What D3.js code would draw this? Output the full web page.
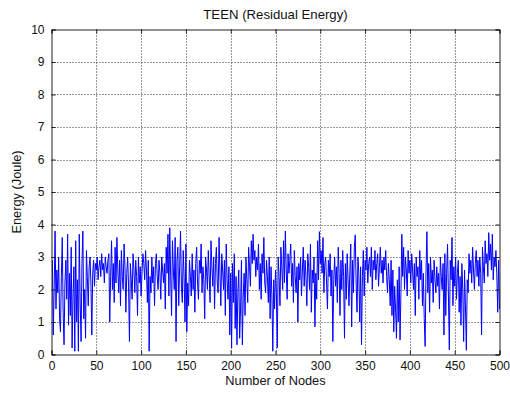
<!DOCTYPE html>
<html><head><meta charset="utf-8">
<script src="https://cdn.jsdelivr.net/npm/d3@7"></script>
<style>body{margin:0;background:#fff}svg{display:block}text{font-family:"Liberation Sans",Arial,sans-serif}</style>
</head><body>
<svg id="c" width="510" height="393"></svg>
<script>
const xTicks = [0,50,100,150,200,250,300,350,400,450,500];
const yTicks = [0,1,2,3,4,5,6,7,8,9,10];
const energy = [
2.9,0.6,2.1,3.8,1.4,2.6,1.9,3.0,1.1,0.7,2.4,3.6,1.3,0.3,2.2,2.9,1.7,3.7,0.9,2.5,1.2,3.3,0.2,1.8,2.7,
0.1,3.5,1.0,2.3,0.1,3.7,1.6,0.4,2.8,3.8,1.1,2.0,0.5,3.2,2.4,1.5,2.7,3.0,2.2,0.6,2.5,2.9,2.1,2.8,2.6,
3.0,2.3,2.7,2.9,2.4,3.1,2.6,2.8,2.2,3.0,2.7,2.5,2.9,3.1,1.0,2.4,3.5,2.0,2.8,1.6,3.3,2.2,3.6,2.6,1.9,
2.9,1.5,3.2,2.4,2.0,3.4,2.7,1.3,2.5,3.0,2.1,0.4,2.8,2.3,1.7,3.1,2.6,1.9,2.9,2.4,1.2,3.0,2.2,2.7,1.8,
2.5,3.1,2.8,2.3,3.2,2.6,1.6,2.9,0.1,2.4,1.9,3.0,2.2,2.7,1.5,2.8,3.1,2.4,2.0,2.9,2.5,1.7,3.0,2.6,2.2,
2.8,1.4,3.3,2.5,3.7,1.8,3.9,2.4,1.2,3.5,2.6,2.0,3.6,0.4,2.9,3.3,1.5,2.7,3.8,2.1,1.6,3.2,2.4,1.0,3.4,
0.7,2.2,1.5,2.9,2.4,1.8,3.1,2.0,2.6,1.3,2.8,3.3,2.2,1.7,2.9,2.5,3.4,1.9,2.7,2.3,1.1,3.0,2.6,2.0,3.2,
2.4,1.6,3.5,2.7,2.1,3.0,1.4,2.8,3.3,2.2,1.9,3.6,2.5,1.5,3.1,2.6,2.0,2.9,1.2,3.4,2.3,1.7,2.7,0.6,2.5,
0.2,2.8,1.6,3.1,0.8,2.4,0.3,1.9,2.6,0.5,1.4,2.9,0.3,1.8,2.5,1.2,3.0,2.3,1.6,3.3,2.7,2.1,3.5,2.8,3.7,
2.9,3.2,2.4,3.0,2.6,3.4,2.0,2.8,1.7,3.1,2.5,3.6,2.2,1.9,2.9,2.4,1.6,3.0,1.1,2.7,1.8,0.1,2.3,1.4,2.6,
1.9,0.2,3.0,2.4,1.5,3.3,2.7,2.0,3.5,2.2,3.8,2.6,1.7,3.1,2.5,2.9,3.4,2.1,2.8,1.6,3.2,2.4,1.9,2.7,1.0,
2.8,2.3,3.0,1.8,2.6,3.3,2.1,2.9,2.4,1.5,3.1,2.7,2.0,3.4,1.3,2.6,2.2,3.0,0.85,2.5,1.7,3.5,2.3,3.78,2.8,
3.2,2.5,3.6,1.9,2.8,3.0,2.2,1.4,2.9,2.4,3.1,1.8,2.6,0.4,2.3,3.0,2.1,2.7,1.6,3.3,2.5,1.2,2.9,2.0,3.2,
2.4,0.5,2.8,1.7,3.1,2.3,1.5,2.6,3.4,0.85,2.9,1.9,3.3,3.68,2.2,1.3,3.0,2.5,1.0,2.7,0.3,2.4,3.2,1.8,2.9,
2.6,3.3,2.2,2.8,3.0,2.4,3.3,2.0,2.9,2.6,3.2,2.3,2.8,3.1,2.1,2.7,3.3,2.5,2.9,2.2,3.0,2.6,3.2,2.4,1.9,
2.8,2.3,1.5,2.9,1.2,2.6,0.7,2.1,1.4,0.5,2.3,1.0,2.7,0.45,1.9,3.7,2.4,3.3,2.0,3.0,2.6,1.8,3.2,2.5,2.9,
2.2,3.1,2.6,2.0,2.8,1.2,3.0,2.4,2.7,1.7,3.2,2.3,2.9,1.5,2.5,1.1,0.25,2.6,3.78,1.9,2.8,1.3,3.0,2.2,2.6,
1.6,2.9,2.3,1.9,2.7,2.1,2.5,1.4,3.0,2.4,2.0,2.8,0.6,3.1,1.2,2.5,3.4,1.8,0.14,2.9,2.3,3.6,1.5,2.7,2.1,
3.0,1.7,2.5,2.9,1.3,2.4,0.9,2.8,2.0,0.4,2.6,1.5,0.13,2.3,1.9,3.1,2.5,2.9,2.2,3.3,2.6,2.0,2.8,3.2,2.4,
2.9,2.1,3.0,2.5,0.6,3.3,2.7,2.2,3.5,2.8,3.1,2.4,3.75,2.9,3.4,2.6,3.7,2.3,3.0,2.7,3.2,2.5,1.3,2.9,1.4
];
const nodes = energy.map((d,i)=>i+1);

const svg = d3.select("#c");
const L=51.5, R=499.5, T=29.5, B=354.5;
const x = d3.scaleLinear().domain([0,500]).range([L,R]);
const y = d3.scaleLinear().domain([0,10]).range([B,T]);

// grid
const g = svg.append("g");
g.selectAll(".gx").data(xTicks.slice(1,-1)).enter().append("line")
  .attr("x1",d=>Math.round(x(d))+0.5).attr("x2",d=>Math.round(x(d))+0.5).attr("y1",T).attr("y2",B)
  .attr("stroke","#333").attr("stroke-width",1).attr("stroke-dasharray","1,2");
g.selectAll(".gy").data(yTicks.slice(1,-1)).enter().append("line")
  .attr("y1",d=>Math.round(y(d))+0.5).attr("y2",d=>Math.round(y(d))+0.5).attr("x1",L).attr("x2",R)
  .attr("stroke","#333").attr("stroke-width",1).attr("stroke-dasharray","1,2");

// line
const line = d3.line().x((d,i)=>x(nodes[i])).y(d=>y(d));
svg.append("path").datum(energy).attr("d",line).attr("fill","none")
  .attr("stroke","#0000ff").attr("stroke-width",1);

// axes
const ax = svg.append("g").attr("transform",`translate(0,${B})`)
  .call(d3.axisBottom(x).tickValues(xTicks).tickSize(-4).tickPadding(7).tickFormat(d3.format("d")));
const axT = svg.append("g").attr("transform",`translate(0,${T})`)
  .call(d3.axisTop(x).tickValues(xTicks).tickSize(-4).tickFormat(""));
const ay = svg.append("g").attr("transform",`translate(${L},0)`)
  .call(d3.axisLeft(y).tickValues(yTicks).tickSize(-4).tickPadding(7).tickFormat(d3.format("d")));
const ayR = svg.append("g").attr("transform",`translate(${R},0)`)
  .call(d3.axisRight(y).tickValues(yTicks).tickSize(-4).tickFormat(""));
[ax,axT,ay,ayR].forEach(a=>{
  a.select(".domain").attr("stroke","#222");
  a.selectAll(".tick line").attr("stroke","#222");
  a.selectAll("text").attr("font-size",12).attr("fill","#111").attr("font-family","Liberation Sans, Arial, sans-serif");
});

svg.append("text").attr("x",(L+R)/2).attr("y",19).attr("text-anchor","middle")
  .attr("font-size",13.2).attr("fill","#111").text("TEEN (Residual Energy)");
svg.append("text").attr("x",(L+R)/2).attr("y",385).attr("text-anchor","middle")
  .attr("font-size",12.8).attr("fill","#111").text("Number of Nodes");
svg.append("text").attr("transform",`translate(21,${(T+B)/2}) rotate(-90)`).attr("text-anchor","middle")
  .attr("font-size",12.8).attr("fill","#111").text("Energy (Joule)");
</script>
</body></html>
